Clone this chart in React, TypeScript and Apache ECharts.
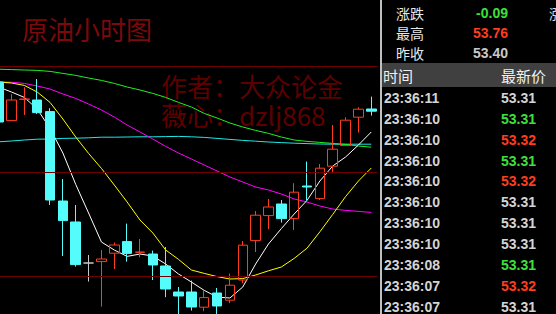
import React, { useEffect, useRef } from "react";
import * as echarts from "echarts";

// ---- data ----
const bars = ["1","2","3","4","5","6","7","8","9","10","11","12","13","14","15","16","17","18","19","20","21","22","23","24","25","26","27","28","29","30"];

const openP = [53.990, 53.797, 53.903, 53.900, 53.842, 53.395, 53.290, 53.085, 53.092, 53.134, 53.192, 53.138, 53.130, 53.070, 52.940, 52.940, 52.864, 52.935, 52.899, 53.000, 53.197, 53.322, 53.380, 53.307, 53.470, 53.407, 53.569, 53.672, 53.814, 53.855];
const closeP = [53.790, 53.900, 53.905, 53.837, 53.400, 53.297, 53.077, 53.085, 53.105, 53.175, 53.133, 53.140, 53.075, 52.955, 52.920, 52.865, 52.912, 52.870, 52.974, 53.174, 53.324, 53.365, 53.307, 53.439, 53.465, 53.559, 53.654, 53.799, 53.854, 53.844];
const lowP = [53.788, 53.796, 53.825, 53.830, 53.375, 53.120, 53.067, 52.992, 52.867, 53.055, 53.092, 53.114, 53.000, 52.914, 52.800, 52.847, 52.844, 52.810, 52.884, 52.984, 53.140, 53.254, 53.287, 53.250, 53.397, 53.400, 53.534, 53.670, 53.737, 53.822];
const highP = [53.995, 53.929, 53.964, 54.005, 53.859, 53.505, 53.375, 53.125, 53.150, 53.187, 53.282, 53.205, 53.147, 53.165, 52.965, 52.997, 52.950, 52.960, 53.032, 53.195, 53.345, 53.405, 53.400, 53.484, 53.592, 53.580, 53.775, 53.814, 53.864, 53.917];

const maWhite = [53.965, 53.940, 53.913, 53.855, 53.758, 53.635, 53.478, 53.335, 53.190, 53.150, 53.118, 53.130, 53.120, 53.080, 53.030, 52.990, 52.948, 52.915, 52.910, 52.965, 53.080, 53.180, 53.257, 53.330, 53.398, 53.495, 53.570, 53.615, 53.675, 53.740];
const maYellow = [53.990, 53.985, 53.973, 53.940, 53.888, 53.805, 53.715, 53.633, 53.558, 53.475, 53.390, 53.300, 53.235, 53.150, 53.103, 53.050, 53.033, 53.017, 53.005, 53.007, 53.025, 53.046, 53.065, 53.108, 53.159, 53.241, 53.328, 53.417, 53.495, 53.560];
const maMagenta = [53.990, 53.989, 53.983, 53.970, 53.955, 53.930, 53.908, 53.880, 53.850, 53.815, 53.775, 53.740, 53.705, 53.668, 53.635, 53.605, 53.575, 53.545, 53.515, 53.490, 53.465, 53.450, 53.430, 53.405, 53.390, 53.370, 53.355, 53.348, 53.343, 53.338];
const maGreen = [54.054, 54.052, 54.050, 54.048, 54.043, 54.033, 54.023, 54.010, 53.998, 53.983, 53.965, 53.950, 53.933, 53.913, 53.888, 53.865, 53.833, 53.810, 53.785, 53.765, 53.748, 53.733, 53.715, 53.700, 53.693, 53.688, 53.683, 53.678, 53.670, 53.664];
const maCyan = [53.691, 53.695, 53.700, 53.704, 53.705, 53.708, 53.709, 53.711, 53.714, 53.714, 53.715, 53.716, 53.716, 53.717, 53.718, 53.716, 53.713, 53.708, 53.703, 53.698, 53.694, 53.690, 53.687, 53.684, 53.682, 53.680, 53.679, 53.679, 53.679, 53.679];

const gridLevels = [54.0675, 53.5425, 53.0175];

const quoteLabels = ["涨跌", "最高", "昨收"];
const quoteValues = ["-0.09", "53.76", "53.40"];
const quoteColors = ["#3ce03c", "#ff3c1e", "#c8c8c8"];

const tickTimes = ["23:36:11", "23:36:10", "23:36:10", "23:36:10", "23:36:10", "23:36:10", "23:36:10", "23:36:10", "23:36:08", "23:36:07", "23:36:07"];
const tickPrices = ["53.31", "53.31", "53.32", "53.31", "53.32", "53.31", "53.31", "53.31", "53.31", "53.32", "53.31"];
const tickDir = [0, -1, 1, -1, 1, 0, 0, 0, -1, 1, 0];

const RED = "#ff3c1e";
const CYAN = "#54fcfc";
const GREEN_TXT = "#3ce03c";
const CJK = '"Noto Sans CJK SC", "Noto Sans", sans-serif';
const NUM = '"Liberation Sans", Arial, sans-serif';
const OX = 8; // chart div is shifted 8px left so the first bar is cut by the page edge

export default function App() {
  const ref = useRef<HTMLDivElement>(null);
  useEffect(() => {
    document.body.style.margin = "0";
    document.body.style.background = "#000";
    document.body.style.overflow = "hidden";
    const chart = echarts.init(ref.current!, null, { renderer: "svg" });
    const candleData = bars.map((_, i) => [openP[i], closeP[i], lowP[i], highP[i]]);
    const lineSeries = (data: number[], color: string) => ({
      type: "line",
      data,
      showSymbol: false,
      symbol: "none",
      silent: true,
      lineStyle: { color, width: 1 },
      z: 3,
    });

    const graphics: any[] = [
      {
        type: "text", x: OX + 22, y: 28, z: 0,
        style: { text: "原油小时图", fill: "#7a0a0a", font: `26px ${CJK}`, textVerticalAlign: "middle" },
      },
      {
        type: "text", x: OX + 161, y: 99.5, z: 0,
        style: {
          text: "作者：大众论金\n薇心：dzlj868",
          fill: "#5e0000",
          font: `26px ${CJK}`,
          lineHeight: 29,
          textVerticalAlign: "middle",
        },
      },
      { type: "rect", shape: { x: OX + 380, y: 0, width: 2, height: 314 }, style: { fill: "#c0c0c0" }, z: 5 },
      { type: "rect", shape: { x: OX + 382, y: 0, width: 180, height: 63 }, style: { fill: "#000" }, z: 4 },
      { type: "rect", shape: { x: OX + 382, y: 87, width: 180, height: 227 }, style: { fill: "#000" }, z: 4 },
      { type: "rect", shape: { x: OX + 382, y: 63, width: 180, height: 24 }, style: { fill: "#404040" }, z: 5 },
      {
        type: "text", x: OX + 383, y: 75, z: 6,
        style: { text: "时间", fill: "#f0f0f0", font: `15px ${CJK}`, textVerticalAlign: "middle" },
      },
      {
        type: "text", x: OX + 546, y: 75, z: 6,
        style: { text: "最新价", fill: "#f0f0f0", font: `15px ${CJK}`, textAlign: "right", textVerticalAlign: "middle" },
      },
      {
        type: "text", x: OX + 549, y: 13, z: 6,
        style: { text: "涨幅", fill: "#e0e0e0", font: `14px ${CJK}`, textVerticalAlign: "middle" },
      },
    ];
    quoteLabels.forEach((lab, i) => {
      const y = 13 + i * 20;
      graphics.push({
        type: "text", x: OX + 396, y, z: 6,
        style: { text: lab, fill: "#e8e8e8", font: `14px ${CJK}`, textVerticalAlign: "middle" },
      });
      graphics.push({
        type: "text", x: OX + 508, y, z: 6,
        style: { text: quoteValues[i], fill: quoteColors[i], font: `bold 14px ${NUM}`, textAlign: "right", textVerticalAlign: "middle" },
      });
    });
    tickTimes.forEach((t, i) => {
      const y = 98 + i * 20.85;
      graphics.push({
        type: "text", x: OX + 384, y, z: 6,
        style: { text: t, fill: "#d4d4d4", font: `bold 14px ${NUM}`, textVerticalAlign: "middle" },
      });
      const c = tickDir[i] > 0 ? RED : tickDir[i] < 0 ? GREEN_TXT : "#d4d4d4";
      graphics.push({
        type: "text", x: OX + 536, y, z: 6,
        style: { text: tickPrices[i], fill: c, font: `bold 14px ${NUM}`, textAlign: "right", textVerticalAlign: "middle" },
      });
    });

    chart.setOption({
      animation: false,
      backgroundColor: "#000000",
      grid: { left: 0.2, top: 0, width: 385.5, height: 314 },
      xAxis: {
        type: "category",
        data: bars,
        boundaryGap: true,
        show: false,
      },
      yAxis: {
        type: "value",
        min: 52.83,
        max: 54.4,
        show: false,
        splitLine: { show: false },
      },
      graphic: graphics,
      series: [
        {
          type: "line",
          data: [],
          silent: true,
          z: 1,
          markLine: {
            silent: true,
            symbol: ["none", "none"],
            label: { show: false },
            lineStyle: { color: "#6e0000", type: "solid", width: 1 },
            data: gridLevels.map((v) => ({ yAxis: v })),
          },
        },
        lineSeries(maCyan, "#1ee8e8"),
        lineSeries(maGreen, "#22ee22"),
        lineSeries(maMagenta, "#ff00ff"),
        lineSeries(maYellow, "#ffff00"),
        lineSeries(maWhite, "#ffffff"),
        {
          type: "candlestick",
          data: candleData,
          barWidth: 10,
          clip: true,
          silent: true,
          z: 4,
          itemStyle: {
            color: "rgba(0,0,0,0)",
            color0: CYAN,
            borderColor: RED,
            borderColor0: CYAN,
            borderColorDoji: "#c8c8c8",
            borderWidth: 1,
          },
        },
      ],
    });
    return () => chart.dispose();
  }, []);
  return (
    <div
      ref={ref}
      style={{ position: "fixed", left: -OX, top: 0, width: 556 + OX, height: 314, background: "#000" }}
    />
  );
}
